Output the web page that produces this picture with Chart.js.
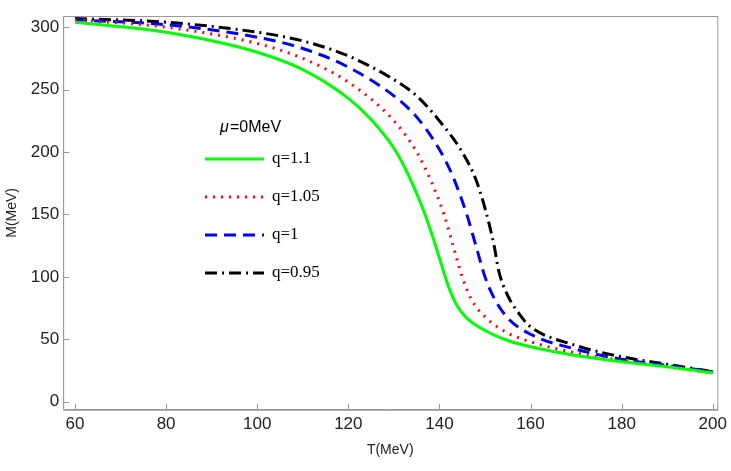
<!DOCTYPE html>
<html>
<head>
<meta charset="utf-8">
<script src="https://cdn.jsdelivr.net/npm/chart.js@4"></script>
<style>
  body { margin: 0; background: #fff; }
  #wrap { width: 731px; height: 471px; }
</style>
</head>
<body>
<div id="wrap"><canvas id="c"></canvas></div>
<script>
// curve values (T in MeV, M in MeV)
const tGreen = [60, 80, 100, 110, 120, 125, 130, 133, 136, 138, 140, 142, 144, 146, 150, 155, 160, 170, 180, 190, 200];
const mGreen = [304, 296, 280, 266, 243, 226, 203, 183, 158, 138, 115, 92, 76, 67, 57, 49, 44, 37, 32, 28, 23];
const tRed = [60, 80, 100, 110, 120, 130, 135, 138, 141, 143, 145, 147, 150, 155, 160, 170, 180, 190, 200];
const mRed = [306, 300, 287, 275, 256, 225, 200, 178, 150, 125, 100, 82, 68, 55, 48, 39, 33, 28, 23];
const tBlue = [60, 80, 100, 110, 120, 130, 135, 140, 143, 146, 148, 150, 152, 155, 160, 170, 180, 190, 200];
const mBlue = [306, 302, 292, 283, 268, 245, 228, 202, 180, 150, 125, 100, 83, 67, 54, 42, 34, 29, 24];
const tBlack = [60, 80, 100, 110, 120, 130, 135, 140, 145, 148, 150, 152, 153, 155, 158, 160, 170, 180, 190, 200];
const mBlack = [307, 304, 296, 289, 277, 258, 245, 225, 200, 178, 155, 125, 105, 85, 68, 60, 45, 36, 30, 24];
const seriesLabels = ['q=1.1', 'q=1.05', 'q=1', 'q=0.95'];
const xTicks = [60, 80, 100, 120, 140, 160, 180, 200];
const yTicks = [0, 50, 100, 150, 200, 250, 300];

const pts = (xs, ys) => xs.map((x, i) => ({ x: x, y: ys[i] }));
const styles = [
    { color: '#00ff00', dash: [] },
    { color: '#ff0000', dash: [2, 6] },
    { color: '#0000ff', dash: [12, 7] },
    { color: '#000000', dash: [12, 5, 2, 5] }
];
const allData = [pts(tGreen, mGreen), pts(tRed, mRed), pts(tBlue, mBlue), pts(tBlack, mBlack)];

// frame around the plot, inward ticks, legend inside it
const framePlugin = {
    id: 'frame',
    afterDraw(chart) {
        const { ctx, chartArea: a, scales } = chart;
        ctx.save();
        ctx.strokeStyle = '#999';
        ctx.lineWidth = 1;
        ctx.strokeRect(a.left + 0.5, a.top + 0.5, a.right - a.left, a.bottom - a.top);
        ctx.beginPath();
        xTicks.forEach(v => {
            const x = Math.round(scales.x.getPixelForValue(v)) + 0.5;
            ctx.moveTo(x, a.bottom); ctx.lineTo(x, a.bottom - 6);
        });
        yTicks.forEach(v => {
            const y = Math.round(scales.y.getPixelForValue(v)) + 0.5;
            ctx.moveTo(a.left, y); ctx.lineTo(a.left + 6, y);
        });
        ctx.stroke();
        ctx.fillStyle = '#000';
        ctx.font = 'italic 16px "Liberation Sans"';
        ctx.textBaseline = 'middle';
        ctx.fillText('\u03bc', 220, 128);
        ctx.font = '16px "Liberation Sans"';
        ctx.fillText('=0MeV', 230, 128);
        seriesLabels.forEach((lab, i) => {
            const y = 159 + i * 38;
            ctx.strokeStyle = styles[i].color;
            ctx.lineWidth = 3;
            ctx.setLineDash(styles[i].dash);
            ctx.beginPath();
            ctx.moveTo(205, y);
            ctx.lineTo(264, y);
            ctx.stroke();
            ctx.setLineDash([]);
            ctx.fillStyle = '#000';
            ctx.font = '17px "Liberation Serif"';
            ctx.fillText(lab, 272, y);
        });
        ctx.restore();
    }
};

new Chart(document.getElementById('c'), {
    type: 'line',
    data: {
        datasets: allData.map((d, i) => ({
            label: seriesLabels[i],
            data: d,
            borderColor: styles[i].color,
            borderDash: styles[i].dash,
            borderWidth: 3,
            pointRadius: 0,
            cubicInterpolationMode: 'monotone',
            fill: false
        }))
    },
    options: {
        responsive: true, maintainAspectRatio: false, animation: false,
        layout: { padding: { top: 16, right: 8, left: 4, bottom: 8 } },
        plugins: { legend: { display: false }, tooltip: { enabled: false } },
        scales: {
            x: {
                type: 'linear', min: 57.4, max: 201,
                afterBuildTicks: (s) => { s.ticks = xTicks.map(v => ({ value: v })); },
                ticks: { color: '#222', font: { size: 17, family: 'Liberation Sans' }, padding: 4 },
                grid: { drawOnChartArea: false, drawTicks: false, color: '#999' },
                border: { color: '#999' },
                title: { display: true, text: 'T(MeV)', color: '#222', font: { size: 14, family: 'Liberation Sans' } }
            },
            y: {
                min: -6.5, max: 309,
                afterBuildTicks: (s) => { s.ticks = yTicks.map(v => ({ value: v })); },
                ticks: { color: '#222', font: { size: 17, family: 'Liberation Sans' }, padding: 4 },
                grid: { drawOnChartArea: false, drawTicks: false, color: '#999' },
                border: { color: '#999' },
                title: { display: true, text: 'M(MeV)', color: '#222', font: { size: 14, family: 'Liberation Sans' }, padding: { top: 0, bottom: 6 } }
            }
        }
    },
    plugins: [framePlugin]
});
</script>
</body>
</html>
